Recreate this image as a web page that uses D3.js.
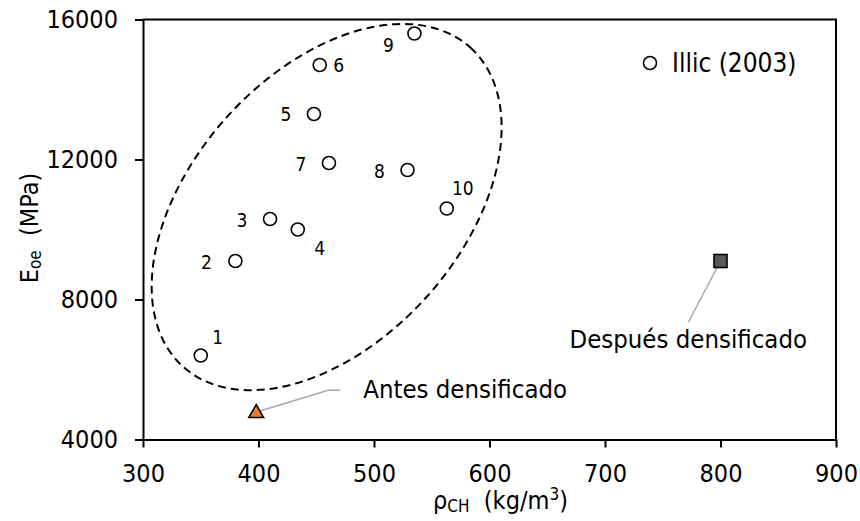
<!DOCTYPE html>
<html>
<head>
<meta charset="utf-8">
<script src="https://cdn.jsdelivr.net/npm/d3@7"></script>
<style>
  html, body { margin: 0; padding: 0; background: #fff; overflow: hidden; }
  svg { display: block; }
  svg, svg text { font-family: "DejaVu Sans Condensed", "DejaVu Sans", sans-serif; }
  .axis path, .axis line { stroke: #000; stroke-width: 2; }
  .axis text { font-size: 25px; fill: #000; font-family: "DejaVu Sans Condensed", "DejaVu Sans", sans-serif; }
</style>
</head>
<body>
<div id="chart"></div>
<script>
// data
const sampleIds = ["1", "2", "3", "4", "5", "6", "7", "8", "9", "10"];
const densityIllic = [350, 380, 410, 434, 448, 453, 461, 529, 535, 563];
const modulusIllic = [6400, 9100, 10300, 10000, 13300, 14700, 11900, 11700, 15600, 10600];
const before = { density: 398, modulus: 4750, label: "Antes densificado" };
const after = { density: 800, modulus: 9100, label: "Después densificado" };
const xTicks = [300, 400, 500, 600, 700, 800, 900];
const yTicks = [4000, 8000, 12000, 16000];
const groupCentre = [459, 10640]; // centre of the dashed group ellipse

// label offsets (px) from each point
const labelOffsets = [[17, -19], [-29, 1], [-28, 1], [22, 18], [-28, 0], [19, 0], [-28, 1], [-28, 1], [-26, 11], [16, -21]];

const width = 860, height = 521;
const margin = { top: 19.5, right: 24, bottom: 81.5, left: 143 };
const innerWidth = width - margin.left - margin.right;
const innerHeight = height - margin.top - margin.bottom;

const svg = d3.select("#chart")
    .append("svg")
    .attr("width", width)
    .attr("height", height);

const inner = svg.append("g")
    .attr("transform", `translate(${margin.left},${margin.top})`);

const xScale = d3.scaleLinear().domain([300, 900]).range([0, innerWidth]);
const yScale = d3.scaleLinear().domain([4000, 16000]).range([innerHeight, 0]);

// axes
inner.append("g")
    .attr("class", "axis")
    .attr("transform", `translate(0,${innerHeight})`)
    .call(d3.axisBottom(xScale).tickValues(xTicks).tickFormat(d3.format("d"))
        .tickSize(8).tickPadding(17).tickSizeOuter(0))
    .attr("font-family", null);

inner.append("g")
    .attr("class", "axis")
    .call(d3.axisLeft(yScale).tickValues(yTicks).tickFormat(d3.format("d"))
        .tickSize(8).tickPadding(17).tickSizeOuter(0))
    .attr("font-family", null);

// top and right frame
inner.append("path")
    .attr("d", `M0,${yScale(16000)}H${xScale(900)}V${yScale(4000)}`)
    .attr("fill", "none")
    .attr("stroke", "#000")
    .attr("stroke-width", 2);

// dashed group ellipse
inner.append("ellipse")
    .attr("transform", `translate(${xScale(groupCentre[0])},${yScale(groupCentre[1])}) rotate(-48)`)
    .attr("rx", 214.7)
    .attr("ry", 134.4)
    .attr("fill", "none")
    .attr("stroke", "#000")
    .attr("stroke-width", 2)
    .attr("stroke-dasharray", "8,5");

// Illic points
const pts = sampleIds.map((id, i) => ({ id, x: densityIllic[i], y: modulusIllic[i], off: labelOffsets[i] }));

inner.selectAll("circle.pt")
    .data(pts)
    .join("circle")
    .attr("class", "pt")
    .attr("cx", d => xScale(d.x))
    .attr("cy", d => yScale(d.y))
    .attr("r", 6.5)
    .attr("fill", "#fff")
    .attr("stroke", "#000")
    .attr("stroke-width", 1.6);

inner.selectAll("text.pt-label")
    .data(pts)
    .join("text")
    .attr("class", "pt-label")
    .attr("x", d => xScale(d.x) + d.off[0])
    .attr("y", d => yScale(d.y) + d.off[1])
    .attr("text-anchor", "middle")
    .attr("dominant-baseline", "central")
    .attr("font-size", "19px")
    .text(d => d.id);

// leader lines
const bx = xScale(before.density), by = yScale(before.modulus);
const ax = xScale(after.density), ay = yScale(after.modulus);

inner.append("path")
    .attr("d", `M${bx + 3},${by - 2}L${bx + 72},${by - 23}H${bx + 84}`)
    .attr("fill", "none")
    .attr("stroke", "#a6a6a6")
    .attr("stroke-width", 1.5);

inner.append("path")
    .attr("d", `M${ax},${ay}L${ax - 32},${ay + 61}`)
    .attr("fill", "none")
    .attr("stroke", "#a6a6a6")
    .attr("stroke-width", 1.5);

// before: triangle
inner.append("path")
    .attr("d", d3.symbol().type(d3.symbolTriangle).size(95)())
    .attr("transform", `translate(${bx},${by})`)
    .attr("fill", "#ed7d31")
    .attr("stroke", "#000")
    .attr("stroke-width", 1.6);

// after: square
inner.append("rect")
    .attr("x", ax - 6.5)
    .attr("y", ay - 6.5)
    .attr("width", 13)
    .attr("height", 13)
    .attr("fill", "#595959")
    .attr("stroke", "#000")
    .attr("stroke-width", 1.6);

inner.append("text")
    .attr("x", bx + 107)
    .attr("y", by - 24)
    .attr("dominant-baseline", "central")
    .attr("font-size", "25.5px")
    .text(before.label);

inner.append("text")
    .attr("x", ax - 151)
    .attr("y", ay + 78)
    .attr("dominant-baseline", "central")
    .attr("font-size", "25.5px")
    .text(after.label);

// legend
const legend = svg.append("g").attr("transform", "translate(650,63)");
legend.append("circle")
    .attr("r", 6.5)
    .attr("fill", "#fff")
    .attr("stroke", "#000")
    .attr("stroke-width", 1.6);
legend.append("text")
    .attr("x", 22)
    .attr("dominant-baseline", "central")
    .attr("font-size", "26px")
    .text("Illic (2003)");

// x label
const xLabel = svg.append("text")
    .attr("x", margin.left + innerWidth / 2 + 11)
    .attr("y", 509)
    .attr("text-anchor", "middle")
    .attr("font-size", "25px");
xLabel.append("tspan").text("ρ");
xLabel.append("tspan").attr("font-size", "17px").attr("dy", 3).text("CH");
xLabel.append("tspan").attr("dy", -3).attr("xml:space", "preserve").text("  (kg/m");
xLabel.append("tspan").attr("font-size", "17px").attr("dy", -9).text("3");
xLabel.append("tspan").attr("dy", 9).text(")");

// y label
const yLabel = svg.append("text")
    .attr("transform", "rotate(-90)")
    .attr("x", -228)
    .attr("y", 38)
    .attr("text-anchor", "middle")
    .attr("font-size", "25px");
yLabel.append("tspan").text("E");
yLabel.append("tspan").attr("font-size", "17px").attr("dy", 3).text("oe");
yLabel.append("tspan").attr("dy", -3).attr("xml:space", "preserve").text("  (MPa)");
</script>
</body>
</html>
